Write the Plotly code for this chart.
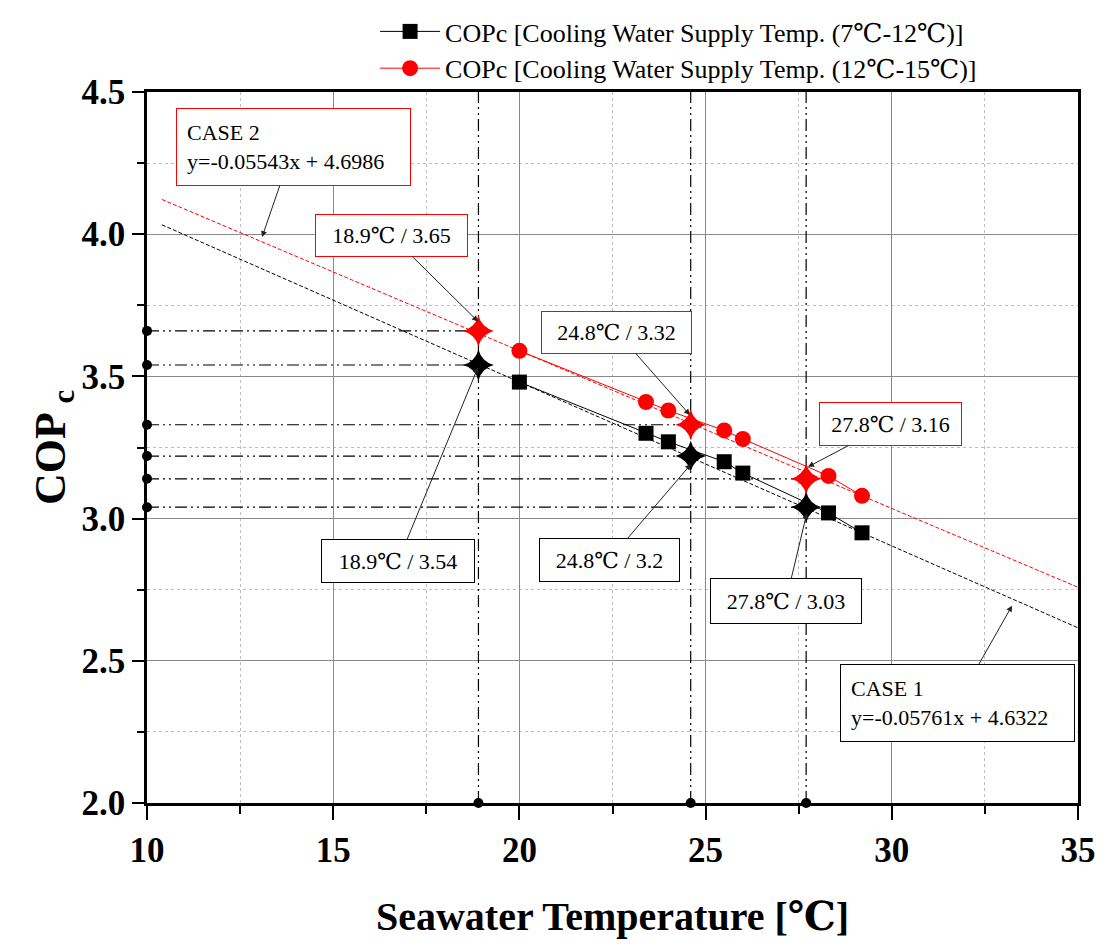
import plotly.graph_objects as go

# ---- data ----
temp_points = [20.0, 23.4, 24.0, 25.5, 26.0, 28.3, 29.2]
cop_case1 = [3.48, 3.30, 3.27, 3.20, 3.16, 3.02, 2.95]   # 7-12 C supply
cop_case2 = [3.59, 3.41, 3.38, 3.31, 3.28, 3.15, 3.08]   # 12-15 C supply

mark_temps = [18.9, 24.6, 27.7]
mark_case1 = [3.54, 3.22, 3.04]
mark_case2 = [3.66, 3.33, 3.14]

fit1 = (-0.05761, 4.6322)
fit2 = (-0.05543, 4.6986)
fit_range = [10.4, 35.0]

x_ticks = [10, 15, 20, 25, 30, 35]
y_ticks = [2.0, 2.5, 3.0, 3.5, 4.0, 4.5]

legend_names = ["COPc [Cooling Water Supply Temp. (7\u2103-12\u2103)]",
                "COPc [Cooling Water Supply Temp. (12\u2103-15\u2103)]"]

SERIF = "Liberation Serif, Times New Roman, DejaVu Serif, serif"
RED = "#ff0000"

fig = go.Figure()

# vertical dash-dot guide lines
dashpat = "12px,4px,2px,4px,2px,4px"
for t in mark_temps:
    fig.add_trace(go.Scatter(x=[t, t], y=[y_ticks[0], y_ticks[-1]], mode="lines",
                             line=dict(color="black", width=1.2, dash=dashpat),
                             showlegend=False, hoverinfo="skip"))
# horizontal dash-dot guide lines
for t, a, b in zip(mark_temps, mark_case1, mark_case2):
    for v in (a, b):
        fig.add_trace(go.Scatter(x=[x_ticks[0], t], y=[v, v], mode="lines",
                                 line=dict(color="black", width=1.2, dash=dashpat),
                                 showlegend=False, hoverinfo="skip"))

# fitted lines
fig.add_trace(go.Scatter(x=fit_range, y=[fit1[0] * v + fit1[1] for v in fit_range],
                         mode="lines", line=dict(color="black", width=1, dash="4px,2px"),
                         showlegend=False, hoverinfo="skip"))
fig.add_trace(go.Scatter(x=fit_range, y=[fit2[0] * v + fit2[1] for v in fit_range],
                         mode="lines", line=dict(color=RED, width=1, dash="4px,2px"),
                         showlegend=False, hoverinfo="skip"))

# data series
fig.add_trace(go.Scatter(x=temp_points, y=cop_case1, mode="lines+markers", name=legend_names[0],
                         line=dict(color="black", width=1),
                         marker=dict(symbol="square", size=15, color="black")))
fig.add_trace(go.Scatter(x=temp_points, y=cop_case2, mode="lines+markers", name=legend_names[1],
                         line=dict(color=RED, width=1),
                         marker=dict(symbol="circle", size=16, color=RED)))

# star markers
fig.add_trace(go.Scatter(x=mark_temps, y=mark_case1, mode="markers",
                         marker=dict(symbol="star-diamond", size=22, color="black"),
                         showlegend=False, hoverinfo="skip"))
fig.add_trace(go.Scatter(x=mark_temps, y=mark_case2, mode="markers",
                         marker=dict(symbol="star-diamond", size=22, color=RED),
                         showlegend=False, hoverinfo="skip"))

# axis dots
fig.add_trace(go.Scatter(x=[x_ticks[0]] * 6, y=mark_case1 + mark_case2, mode="markers",
                         marker=dict(symbol="circle", size=10, color="black"),
                         cliponaxis=False, showlegend=False, hoverinfo="skip"))
fig.add_trace(go.Scatter(x=mark_temps, y=[y_ticks[0]] * 3, mode="markers",
                         marker=dict(symbol="circle", size=10, color="black"),
                         cliponaxis=False, showlegend=False, hoverinfo="skip"))

# annotations (label, head x, head y, ax, ay, color, width, height, align)
notes = [
    ("CASE 2<br>y=-0.05543x + 4.6986", 13.09, 3.99, 31, -90, RED, 213, 56, "left"),
    ("18.9\u2103 / 3.65", 18.89, 3.693, -87, -86, RED, 139, 29, "center"),
    ("24.8\u2103 / 3.32", 24.58, 3.364, -73, -83, RED, 137, 29, "center"),
    ("27.8\u2103 / 3.16", 27.75, 3.182, 82, -43, RED, 129, 30, "center"),
    ("18.9\u2103 / 3.54", 18.89, 3.532, -80, 194, "black", 140, 30, "center"),
    ("24.8\u2103 / 3.2", 24.61, 3.192, -82, 96, "black", 127, 30, "center"),
    ("27.8\u2103 / 3.03", 27.72, 3.02, -21, 88, "black", 138, 32, "center"),
    ("CASE 1<br>y=-0.05761x + 4.6322", 33.23, 2.694, -55, 97, "black", 213, 56, "left"),
]
for text, hx, hy, ax, ay, col, w, h, al in notes:
    pad = 10 if al == "left" else 6
    fig.add_annotation(x=hx, y=hy, ax=ax, ay=ay, text=text, showarrow=True,
                       arrowhead=2, arrowsize=1.2, arrowwidth=1, arrowcolor="#222222",
                       bordercolor=col, borderwidth=1, borderpad=pad, bgcolor="white",
                       width=w, height=h, align=al, valign="middle",
                       font=dict(family=SERIF, size=22, color="black"))

axis_common = dict(showline=True, linecolor="black", linewidth=2.5, mirror=True,
                   ticks="outside", tickcolor="black", tickwidth=2, automargin=False,
                   showgrid=True, gridcolor="#8a8a8a", gridwidth=1, zeroline=False,
                   tickfont=dict(family=SERIF, size=35, color="black", weight="bold"))

fig.update_xaxes(range=[10, 35], tickvals=x_ticks, ticklen=14,
                 minor=dict(dtick=2.5, tick0=10, ticklen=8, tickcolor="black", tickwidth=2,
                            showgrid=True, gridcolor="#bdbdbd", griddash="dot", gridwidth=1),
                 title=dict(text="Seawater Temperature [\u2103]", standoff=34,
                            font=dict(family=SERIF, size=40, color="black", weight="bold")),
                 **axis_common)
fig.update_yaxes(range=[2.0, 4.5], tickvals=y_ticks, tickformat=".1f", ticklen=12,
                 ticksuffix="\u00a0",
                 minor=dict(dtick=0.25, tick0=2.0, ticklen=7, tickcolor="black", tickwidth=2,
                            showgrid=True, gridcolor="#bdbdbd", griddash="dot", gridwidth=1),
                 title=dict(text="COP <sub>c</sub>", standoff=0,
                            font=dict(family=SERIF, size=44, color="black", weight="bold")),
                 **axis_common)

fig.update_layout(
    width=1110, height=946,
    margin=dict(l=139, r=40, t=82, b=151),
    paper_bgcolor="white", plot_bgcolor="white",
    showlegend=True,
    legend=dict(yref="container", x=0.245, y=1.0,
                xanchor="left", yanchor="top",
                bgcolor="rgba(0,0,0,0)", itemwidth=60, tracegroupgap=0,
                font=dict(family=SERIF, size=26, color="black")),
)

fig.write_html("out.html")
